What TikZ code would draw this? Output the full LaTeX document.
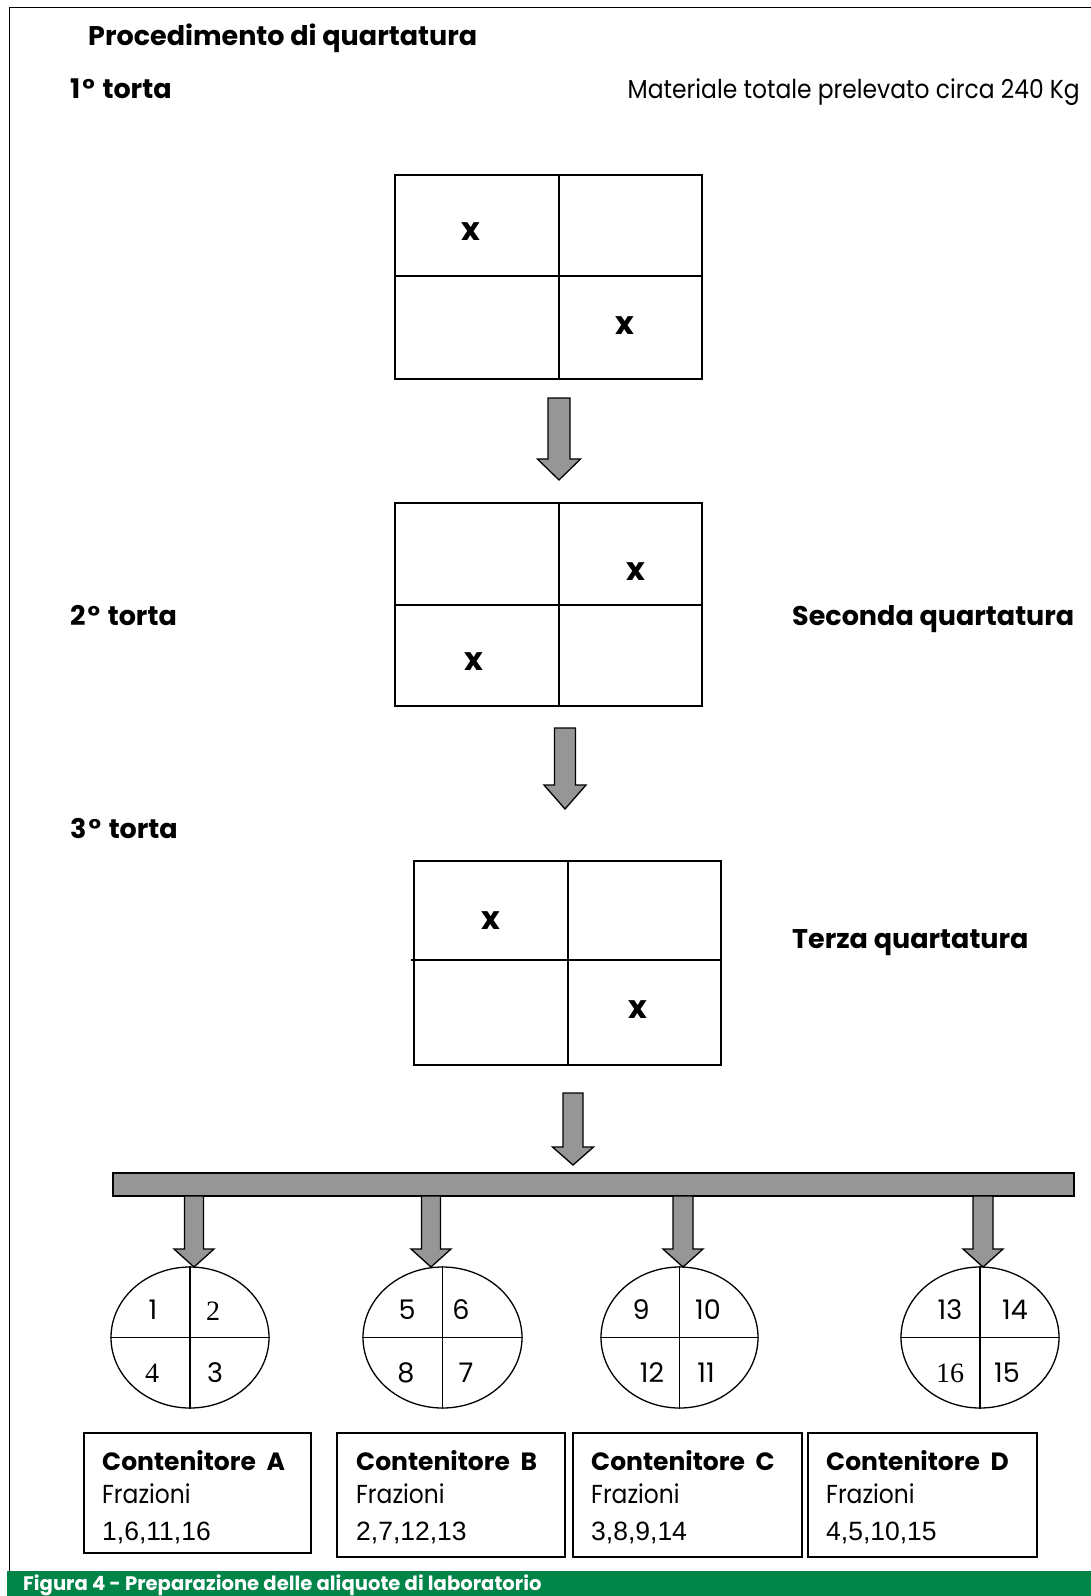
\documentclass[tikz,border=0pt]{standalone}
\usepackage{fontspec}
\setmainfont{Poppins}
\newfontfamily\serifnum{Liberation Serif}
\newfontfamily\condreg{Poppins}[FakeStretch=0.9]
\newfontfamily\listnum{Liberation Sans}
\usetikzlibrary{shapes.geometric}
\definecolor{capgreen}{RGB}{0,132,72}
\definecolor{arrowgray}{RGB}{150,150,150}
\newcommand\blockarrow[6]{%
  \draw[arr] (#1-#5,#2) -- (#1+#5,#2) -- (#1+#5,#3) -- (#1+#6,#3) -- (#1,#4) -- (#1-#6,#3) -- (#1-#5,#3) -- cycle;}
\tikzset{
  quad/.style={draw, line width=1.3pt, inner sep=0pt},
  divider/.style={line width=1.3pt},
  arr/.style={draw, line width=1.3pt, fill=arrowgray, line join=miter},
  heading/.style={inner sep=0pt, font=\bfseries\fontsize{27}{30}\selectfont},
  plain/.style={inner sep=0pt, font=\condreg\fontsize{26}{30}\selectfont},
  xmark/.style={inner sep=0pt, font=\bfseries\fontsize{32}{36}\selectfont},
  num/.style={inner sep=0pt, font=\fontsize{27}{30}\selectfont},
  snum/.style={inner sep=0pt, font=\serifnum\fontsize{28}{30}\selectfont},
  oval/.style={draw, ellipse, line width=1.3pt, inner sep=0pt},
  container/.style={draw, line width=1.3pt, inner sep=0pt},
  cbold/.style={inner sep=0pt, font=\bfseries\fontsize{25}{28}\selectfont},
  creg/.style={inner sep=0pt, font=\condreg\fontsize{26}{30}\selectfont},
  cnum/.style={inner sep=0pt, font=\listnum\fontsize{26.5}{30}\selectfont},
}
\begin{document}
\begin{tikzpicture}[x=1pt,y=-1pt]
\useasboundingbox (0,0) rectangle (1091,1596);
% frame
\draw[line width=0.9pt] (1091,7) -- (9,7) -- (9,1572);
% caption band
\fill[capgreen] (7,1571) rectangle (1091,1596);
\node[inner sep=0pt, anchor=base west, text=white, font=\bfseries\fontsize{19.6}{22}\selectfont] (cap) at (23,1590) {Figura 4 - Preparazione delle aliquote di laboratorio};

% headings
\node[heading, anchor=base west] (title) at (88,45) {Procedimento di quartatura};
\node[heading, anchor=base west] (t1) at (70,98) {1\kern2pt°\kern2pt\ torta};
\node[plain, anchor=base east] (mat) at (1080,98) {Materiale totale prelevato circa 240 Kg};
\node[heading, anchor=base west] (t2) at (70,625) {2\kern2pt°\kern2pt\ torta};
\node[heading, anchor=base west] (sq) at (792,625) {Seconda quartatura};
\node[heading, anchor=base west] (t3) at (70,838) {3\kern2pt°\kern2pt\ torta};
\node[heading, anchor=base west] (tq) at (792,948) {Terza quartatura};

% box 1
\node[quad, minimum width=307pt, minimum height=204pt] (q1) at (548.5,277) {};
\draw[divider] (559,175) -- (559,379);
\draw[divider] (395,276) -- (702,276);
\node[xmark] (x1a) at (471,232) {x};
\node[xmark] (x1b) at (625,326) {x};

% box 2
\node[quad, minimum width=307pt, minimum height=203pt] (q2) at (548.5,604.5) {};
\draw[divider] (559,503) -- (559,706);
\draw[divider] (395,605) -- (702,605);
\node[xmark] (x2a) at (636,572) {x};
\node[xmark] (x2b) at (474,662) {x};

% box 3
\node[quad, minimum width=307pt, minimum height=204pt] (q3) at (567.5,963) {};
\draw[divider] (568,861) -- (568,1065);
\draw[divider] (411,960) -- (721,960);
\node[xmark] (x3a) at (491,921) {x};
\node[xmark] (x3b) at (638,1010) {x};

% arrows
\blockarrow{559}{398}{459}{480}{11}{21.5}
\blockarrow{565}{728}{785}{809}{10.5}{21}
\blockarrow{573}{1093}{1147}{1165}{10}{20.5}

% distribution bar
\node[arr, minimum width=961pt, minimum height=23pt, inner sep=0pt] (bar) at (593.5,1184.5) {};

\blockarrow{194}{1196}{1249}{1267}{9.5}{20}
\blockarrow{431}{1196}{1249}{1267}{9.5}{20}
\blockarrow{683}{1196}{1249}{1267}{10}{20}
\blockarrow{983}{1196}{1249}{1267}{10}{20}

% ellipses
\node[oval, minimum width=158pt, minimum height=141pt] (eA) at (190,1337.5) {};
\node[oval, minimum width=159pt, minimum height=141pt] (eB) at (442.5,1337.5) {};
\node[oval, minimum width=157pt, minimum height=141pt] (eC) at (679.5,1337.5) {};
\node[oval, minimum width=158pt, minimum height=141pt] (eD) at (980,1337.5) {};
\foreach \e in {eA,eB,eC,eD}{
  \draw[line width=1.3pt] (\e.north) -- (\e.south);
  \draw[line width=1.3pt] (\e.west) -- (\e.east);
}
\node[num] (n1) at (153,1310) {1};
\node[snum] (n2) at (213,1311) {2};
\node[snum] (n4) at (152,1373) {4};
\node[num] (n3) at (215,1373) {3};
\node[num] (n5) at (407,1310) {5};
\node[num] (n6) at (461,1310) {6};
\node[num] (n8) at (406,1373) {8};
\node[num] (n7) at (466,1373) {7};
\node[num] (n9) at (641,1310) {9};
\node[num] (n10) at (708,1310) {10};
\node[num] (n12) at (652,1373) {12};
\node[num] (n11) at (706,1373) {11};
\node[num] (n13) at (950,1310) {13};
\node[num] (n14) at (1015,1310) {14};
\node[snum] (n16) at (950,1373) {16};
\node[num] (n15) at (1007,1373) {15};

% containers
\node[container, minimum width=227pt, minimum height=120pt] (cA) at (197.5,1493) {};
\node[container, minimum width=228pt, minimum height=124pt] (cB) at (451,1495) {};
\node[container, minimum width=229pt, minimum height=124pt] (cC) at (687.5,1495) {};
\node[container, minimum width=229pt, minimum height=124pt] (cD) at (922.5,1495) {};

\node[cbold, anchor=base west] (cAt) at (102,1470) {Contenitore\ \ A};
\node[creg, anchor=base west] (cAf) at (102,1503) {Frazioni};
\node[cnum, anchor=base west] (cAn) at (102,1540) {1,6,11,16};
\node[cbold, anchor=base west] (cBt) at (356,1470) {Contenitore\ \ B};
\node[creg, anchor=base west] (cBf) at (356,1503) {Frazioni};
\node[cnum, anchor=base west] (cBn) at (356,1540) {2,7,12,13};
\node[cbold, anchor=base west] (cCt) at (591,1470) {Contenitore\ \ C};
\node[creg, anchor=base west] (cCf) at (591,1503) {Frazioni};
\node[cnum, anchor=base west] (cCn) at (591,1540) {3,8,9,14};
\node[cbold, anchor=base west] (cDt) at (826,1470) {Contenitore\ \ D};
\node[creg, anchor=base west] (cDf) at (826,1503) {Frazioni};
\node[cnum, anchor=base west] (cDn) at (826,1540) {4,5,10,15};
\end{tikzpicture}
\end{document}
